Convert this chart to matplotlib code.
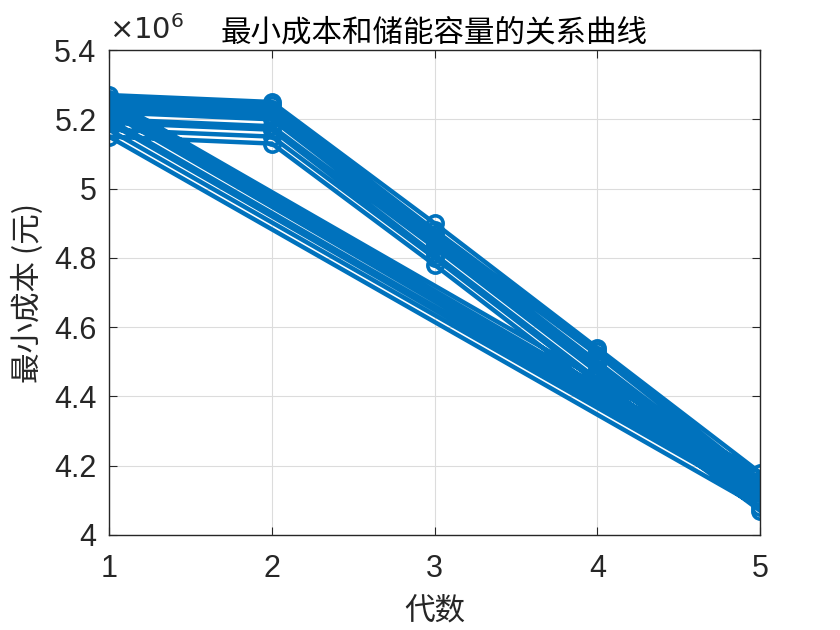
import matplotlib
matplotlib.use("Agg")
import matplotlib.pyplot as plt
import matplotlib.ticker as mticker
import numpy as np

plt.rcParams['font.family'] = ['Liberation Sans', 'Noto Sans CJK SC', 'DejaVu Sans']

# generations of each run (x axis)
generations = [1, 2, 3, 4, 5]

# minimum cost per generation for each run, in units of 1e6 yuan
runs = [
    [5.27, 5.25, 4.90, 4.54, 4.18],
    [5.26, 5.24, 4.88, 4.53, 4.16],
    [5.25, 5.23, 4.87, 4.52, 4.15],
    [5.24, 5.22, 4.86, 4.50, 4.14],
    [5.23, 5.21, 4.85, 4.49, 4.13],
    [5.22, 5.20, 4.84, 4.48, 4.12],
    [5.20, 5.18, 4.83, 4.47, 4.11],
    [5.19, 5.17, 4.81, 4.45, 4.10],
    [5.17, 5.15, 4.80, 4.44, 4.08],
    [5.15, 5.13, 4.78, 4.42, 4.07],
]

# all runs were stored in one long vector, so the line jumps back from 5 to 1
x = np.tile(generations, len(runs))
y = np.concatenate(runs) * 1e6

color = '#0072BD'
axis_color = '#262626'
cjk = ['Noto Sans CJK SC', 'DejaVu Sans']

fig = plt.figure(figsize=(8.4, 6.3), dpi=100)
ax = fig.add_axes([0.1298, 0.1508, 0.775, 0.7698])

ax.plot(x, y, '-o', color=color, linewidth=3.2, markersize=11,
        markerfacecolor='none', markeredgewidth=2.6)

ax.set_xlim(1, 5)
ax.set_ylim(4.0e6, 5.4e6)
ax.set_xticks(generations)
ax.set_yticks(np.arange(4.0, 5.41, 0.2) * 1e6)

def ylab(v, pos):
    s = f"{v / 1e6:.1f}"
    return s[:-2] if s.endswith('.0') else s
ax.yaxis.set_major_formatter(mticker.FuncFormatter(ylab))
ax.text(0.0, 1.01, r'$\times10^{6}$', transform=ax.transAxes, fontsize=21,
        color=axis_color, ha='left', va='bottom')

ax.grid(True, color='#dcdcdc', linewidth=0.8)
ax.set_axisbelow(True)
for sp in ax.spines.values():
    sp.set_color(axis_color)
    sp.set_linewidth(1.0)
ax.tick_params(direction='in', length=6, width=0.8, colors=axis_color,
               labelsize=22, top=True, right=True)
ax.tick_params(axis='x', pad=14)
ax.tick_params(axis='y', pad=9)

ax.set_title('最小成本和储能容量的关系曲线', fontsize=22, family=cjk,
             color='black', pad=6)
ax.set_xlabel('代数', fontsize=22, family=cjk, color=axis_color, labelpad=8)
ax.set_ylabel('最小成本 (元)', fontsize=22, family=cjk, color=axis_color,
              labelpad=7)

fig.savefig('out.png', dpi=100)
